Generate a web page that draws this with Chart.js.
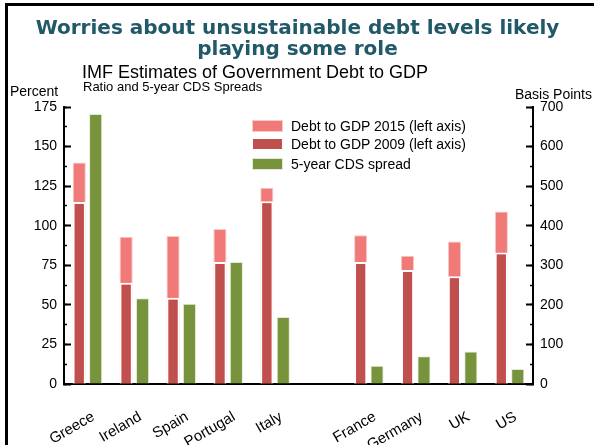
<!DOCTYPE html>
<html>
<head>
<meta charset="utf-8">
<script src="https://cdn.jsdelivr.net/npm/chart.js@4.4.0/dist/chart.umd.min.js"></script>
<style>
  body { margin: 0; background: #fff; }
  #wrap { position: relative; width: 595px; height: 445px; overflow: hidden; font-family: "Liberation Sans", Arial, sans-serif; color: #000; }
  #frame { position: absolute; left: 5px; top: 3px; width: 586px; height: 460px; border-left: 3px solid #000; border-top: 3px solid #000; }
  #trendChart { position: absolute; left: 0; top: 0; }
  #head { position: absolute; left: 0; top: 17px; width: 595px; text-align: center; font-family: "DejaVu Sans", Verdana, sans-serif; font-weight: bold; font-size: 20px; line-height: 21px; color: #215968; }
  #sub1 { position: absolute; left: 82px; top: 62px; font-size: 18px; }
  #sub2 { position: absolute; left: 83px; top: 79px; font-size: 13px; }
  #leftTitle { position: absolute; left: 10px; top: 83px; font-size: 14px; }
  #rightTitle { position: absolute; right: 3px; top: 86px; font-size: 14px; }
  #legend { position: absolute; left: 252px; top: 119px; font-size: 14px; }
  #legend div { height: 18px; line-height: 14px; white-space: nowrap; }
  #legend div:last-child { margin-top: 2px; }
  #legend span.box { display: inline-block; width: 29px; height: 10px; margin-right: 8px; vertical-align: -1px; }
</style>
</head>
<body>
<div id="wrap">
  <canvas id="trendChart" width="595" height="445"></canvas>
  <div id="frame"></div>
  <div id="head">Worries about unsustainable debt levels likely<br>playing some role</div>
  <div id="sub1">IMF Estimates of Government Debt to GDP</div>
  <div id="sub2">Ratio and 5-year CDS Spreads</div>
  <div id="leftTitle">Percent</div>
  <div id="rightTitle">Basis Points</div>
  <div id="legend"></div>
</div>
<script>
// countries (blank slot = gap between periphery and core)
const countries = ["Greece", "Ireland", "Spain", "Portugal", "Italy", "", "France", "Germany", "UK", "US"];
// debt to GDP, percent
const debt2015 = [140, 93, 93.5, 98, 124, null, 94, 81, 90, 109];
const debt2009 = [115, 64, 54.5, 77, 115.5, null, 77, 72, 68, 83];
// 5-year CDS spread, basis points
const cdsSpread = [682, 217, 203, 308, 169, null, 46, 70, 82, 38];
const leftTicks = [0, 25, 50, 75, 100, 125, 150, 175];
const rightTicks = [0, 100, 200, 300, 400, 500, 600, 700];

Chart.defaults.font.family = '"Liberation Sans", Arial, sans-serif';
Chart.defaults.color = '#000';

function fixWidth(w) {
  return scale => { scale.width = w; };
}

function makeChart() {
  const ctx = document.getElementById("trendChart");
  const chart = new Chart(ctx, {
    type: 'bar',
    data: {
      labels: countries,
      datasets: [
        {
          label: 'Debt to GDP 2015 (left axis)',
          data: debt2015,
          backgroundColor: '#f07a78',
          borderColor: '#f9c8c7',
          borderWidth: 1,
          stack: 'debt',
          yAxisID: 'y',
          order: 2
        },
        {
          label: 'Debt to GDP 2009 (left axis)',
          data: debt2009,
          backgroundColor: '#c0504d',
          borderColor: '#ffffff',
          borderWidth: 2,
          stack: 'debt',
          yAxisID: 'y',
          order: 1
        },
        {
          label: '5-year CDS spread',
          data: cdsSpread,
          backgroundColor: '#77933c',
          borderColor: '#e4ead8',
          borderWidth: 1,
          stack: 'cds',
          yAxisID: 'y2',
          order: 3
        }
      ]
    },
    options: {
      responsive: false,
      animation: false,
      devicePixelRatio: 1,
      layout: { padding: { top: 107, left: 0, right: 0, bottom: 0 } },
      categoryPercentage: 0.7,
      barPercentage: 0.8,
      skipNull: true,
      plugins: {
        legend: { display: false },
        tooltip: { enabled: false }
      },
      scales: {
        x: {
          grid: { display: false },
          border: { color: '#000', width: 2 },
          ticks: { minRotation: 30, maxRotation: 30, autoSkip: false, padding: 16, labelOffset: 6, font: { size: 15 } },
          afterFit: scale => { scale.height = 61; }
        },
        y: {
          position: 'left',
          stacked: false,
          min: 0, max: 175,
          weight: 1,
          afterBuildTicks: scale => { scale.ticks = leftTicks.map(v => ({ value: v })); },
          grid: { drawOnChartArea: false, tickLength: -7, tickColor: '#000', tickWidth: 2 },
          border: { color: '#000', width: 2 },
          ticks: { padding: 14, font: { size: 14 } },
          afterFit: fixWidth(64)
        },
        yMinor: {
          position: 'left',
          min: 0, max: 175,
          weight: 0,
          ticks: { stepSize: 12.5, display: false },
          grid: { drawOnChartArea: false, tickLength: -3, tickColor: '#000', tickWidth: 1.5 },
          border: { display: false },
          afterFit: fixWidth(0)
        },
        y2: {
          position: 'right',
          stacked: false,
          min: 0, max: 700,
          weight: 1,
          afterBuildTicks: scale => { scale.ticks = rightTicks.map(v => ({ value: v })); },
          grid: { drawOnChartArea: false, tickLength: -7, tickColor: '#000', tickWidth: 2 },
          border: { color: '#000', width: 2 },
          ticks: { padding: 14, font: { size: 14 } },
          afterFit: fixWidth(62)
        },
        y2Minor: {
          position: 'right',
          min: 0, max: 700,
          weight: 0,
          ticks: { stepSize: 50, display: false },
          grid: { drawOnChartArea: false, tickLength: -3, tickColor: '#000', tickWidth: 1.5 },
          border: { display: false },
          afterFit: fixWidth(0)
        }
      }
    }
  });
  return chart;
}

function renderLegend(chart) {
  let html = "";
  chart.data.datasets.forEach(ds => {
    html += `<div><span class="box" style="background:${ds.backgroundColor};border:1px solid ${ds.borderColor}"></span>${ds.label}</div>`;
  });
  document.getElementById("legend").innerHTML = html;
}

const chart = makeChart();
renderLegend(chart);
</script>
</body>
</html>
